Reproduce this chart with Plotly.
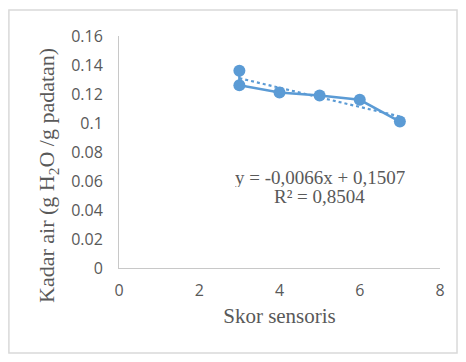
import plotly.graph_objects as go

skor = [3, 3, 4, 5, 6, 7]
kadar_air = [0.136, 0.126, 0.121, 0.119, 0.116, 0.101]
trend_x = [3, 7]
trend_y = [0.1309, 0.1045]
x_ticks = [0, 2, 4, 6, 8]
y_ticks = [0, 0.02, 0.04, 0.06, 0.08, 0.1, 0.12, 0.14, 0.16]
y_tick_labels = ["0", "0.02", "0.04", "0.06", "0.08", "0.1", "0.12", "0.14", "0.16"]

blue = "#5B9BD5"
gray = "#595959"

fig = go.Figure()
fig.add_trace(go.Scatter(x=trend_x, y=trend_y, mode="lines",
                         line=dict(color=blue, width=2.2, dash="dot"),
                         showlegend=False, hoverinfo="skip"))
fig.add_trace(go.Scatter(x=skor, y=kadar_air, mode="lines+markers",
                         line=dict(color=blue, width=2.5),
                         marker=dict(color=blue, size=12),
                         showlegend=False))

fig.update_layout(
    width=450, height=346,
    margin=dict(l=111, r=18, t=28, b=86),
    paper_bgcolor="white", plot_bgcolor="white",
    xaxis=dict(range=[0, 8], tickvals=x_ticks, showgrid=False, zeroline=False,
               showline=True, linecolor="#C8C8C8", linewidth=1,
               ticks="outside", ticklen=8, tickcolor="rgba(0,0,0,0)",
               tickfont=dict(family="Open Sans", size=16, color=gray),
               title=dict(text="Skor sensoris", font=dict(family="Liberation Serif", size=21, color=gray), standoff=8)),
    yaxis=dict(range=[0, 0.16], tickvals=y_ticks, ticktext=y_tick_labels, showgrid=False, zeroline=False,
               showline=True, linecolor="#C8C8C8", linewidth=1,
               ticks="outside", ticklen=12, tickcolor="rgba(0,0,0,0)",
               tickfont=dict(family="Open Sans", size=16, color=gray)),
    annotations=[
        dict(x=-0.221, y=0.397, xref="paper", yref="paper", textangle=-90,
             xanchor="center", yanchor="middle",
             text="Kadar air (g H<sub>2</sub>O /g padatan)", showarrow=False,
             font=dict(family="Liberation Serif", size=22, color=gray)),
        dict(x=5.0, y=0.0621, xref="x", yref="y", height=19,
             text="y = -0,0066x + 0,1507", showarrow=False,
             font=dict(family="Liberation Serif", size=19, color=gray)),
        dict(x=5.0, y=0.0490, xref="x", yref="y", height=19,
             text="R² = 0,8504", showarrow=False,
             font=dict(family="Liberation Serif", size=19, color=gray)),
    ],
    shapes=[dict(type="rect", xref="paper", yref="paper", x0=-0.343, x1=1.053, y0=-0.366, y1=1.112,
                 line=dict(color="#D9D9D9", width=1.5), fillcolor="rgba(0,0,0,0)", layer="below")],
)

fig.write_html("out.html")
